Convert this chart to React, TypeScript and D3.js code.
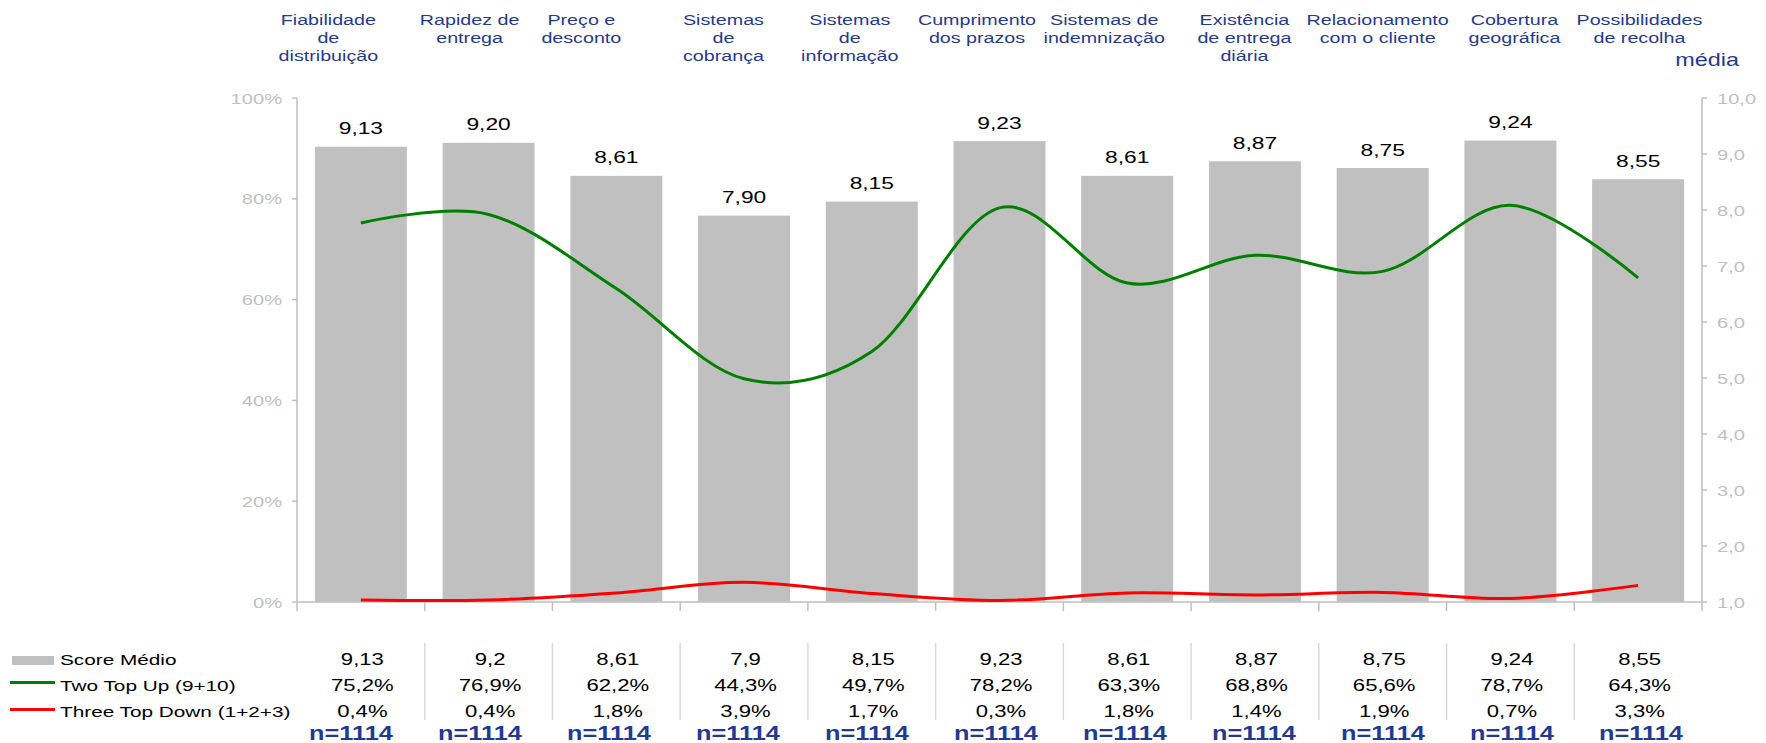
import React from "react";
import * as d3 from "d3";

const categories = [
  "Fiabilidade\nde\ndistribuição",
  "Rapidez de\nentrega",
  "Preço e\ndesconto",
  "Sistemas\nde\ncobrança",
  "Sistemas\nde\ninformação",
  "Cumprimento\ndos prazos",
  "Sistemas de\nindemnização",
  "Existência\nde entrega\ndiária",
  "Relacionamento\ncom o cliente",
  "Cobertura\ngeográfica",
  "Possibilidades\nde recolha",
];
const scoreMedio = [9.13, 9.2, 8.61, 7.9, 8.15, 9.23, 8.61, 8.87, 8.75, 9.24, 8.55];
const twoTopUp = [75.2, 76.9, 62.2, 44.3, 49.7, 78.2, 63.3, 68.8, 65.6, 78.7, 64.3];
const threeTopDown = [0.4, 0.4, 1.8, 3.9, 1.7, 0.3, 1.8, 1.4, 1.9, 0.7, 3.3];
const sampleN = [1114, 1114, 1114, 1114, 1114, 1114, 1114, 1114, 1114, 1114, 1114];
const leftTicks = [0, 20, 40, 60, 80, 100];
const rightTicks = [1, 2, 3, 4, 5, 6, 7, 8, 9, 10];
const legendLabels = ["Score Médio", "Two Top Up (9+10)", "Three Top Down (1+2+3)"];

// layout constants
const W = 1766;
const H = 743;
const X0 = 297;
const X1 = 1702;
const Y0 = 602;
const Y1 = 98;
const SX = 1.34;
const headerNudge = [-32.5, -19, -35, -20.6, -22, -22.5, -23, -10.5, -5, 4, 1.3];
const BLUE = "#1F3A93";
const GRAY = "#BFBFBF";
const FONT = "'Liberation Sans', Arial, sans-serif";

function T(props: {
  x: number;
  y: number;
  anchor?: string;
  size: number;
  weight?: string | number;
  fill?: string;
  sx?: number;
  children: React.ReactNode;
}) {
  const { x, y, anchor = "middle", size, weight = "normal", fill = "#000", sx = SX, children } = props;
  return (
    <text
      transform={`translate(${x},${y}) scale(${sx},1)`}
      textAnchor={anchor}
      fontSize={size}
      fontWeight={weight}
      fill={fill}
      fontFamily={FONT}
    >
      {children}
    </text>
  );
}

const comma = (s: string) => s.replace(".", ",");
const fmt2 = (v: number) => comma(d3.format(".2f")(v));
const fmtTrim = (v: number) => comma(String(+v.toFixed(2)));
const fmtPct = (v: number) => comma(d3.format(".1f")(v)) + "%";

export default function App() {
  const idx = categories.map((_, i) => i);
  const x = d3
    .scaleBand<number>()
    .domain(idx)
    .range([X0, X1])
    .paddingInner(0.28)
    .paddingOuter(0.14);
  const step = x.step();
  const cx = (i: number) => (x(i) as number) + x.bandwidth() / 2;
  const bandStart = (i: number) => X0 + step * i;
  const yPct = d3.scaleLinear().domain([0, 100]).range([Y0, Y1]);
  const yScore = d3.scaleLinear().domain([1, 10]).range([Y0, Y1]);
  const nX = d3.scaleLinear().domain([0, categories.length - 1]).range([351, 1641]);

  const line = d3
    .line<number>()
    .x((_, i) => cx(i))
    .y((d) => yPct(d))
    .curve(d3.curveCardinal.tension(0));

  const rowY = [665, 691, 717];

  return (
    <svg
      width={W}
      height={H}
      style={{ position: "absolute", left: 0, top: 0, background: "#fff" }}
    >
      <rect x={0} y={0} width={W} height={H} fill="#fff" />

      {/* header labels */}
      {categories.map((c, i) =>
        c.split("\n").map((ln, k) => (
          <T key={`h${i}-${k}`} x={cx(i) + headerNudge[i]} y={25 + 18.2 * k} size={14.7} fill={BLUE}>
            {ln}
          </T>
        ))
      )}
      <T x={1739} y={66} anchor="end" size={18} fill={BLUE} sx={1.3}>
        média
      </T>

      {/* bars */}
      {scoreMedio.map((v, i) => (
        <rect
          key={`b${i}`}
          x={x(i)}
          y={yScore(v)}
          width={x.bandwidth()}
          height={Y0 - yScore(v)}
          fill="#C0C0C0"
        />
      ))}
      {scoreMedio.map((v, i) => (
        <T key={`bl${i}`} x={cx(i)} y={yScore(v) - 12.5} size={17}>
          {fmt2(v)}
        </T>
      ))}

      {/* axes */}
      <g stroke={GRAY} strokeWidth={1.5} fill="none">
        <line x1={X0} y1={Y1} x2={X0} y2={Y0} />
        <line x1={X1} y1={Y1} x2={X1} y2={Y0} />
        <line x1={X0} y1={Y0} x2={X1} y2={Y0} />
        {leftTicks.map((t) => (
          <line key={`lt${t}`} x1={X0 - 5} x2={X0} y1={yPct(t)} y2={yPct(t)} />
        ))}
        {rightTicks.map((t) => (
          <line key={`rt${t}`} x1={X1} x2={X1 + 5} y1={yScore(t)} y2={yScore(t)} />
        ))}
        {d3.range(categories.length + 1).map((i) => (
          <line key={`bt${i}`} x1={bandStart(i)} x2={bandStart(i)} y1={Y0} y2={Y0 + 9} />
        ))}
      </g>
      {leftTicks.map((t) => (
        <T key={`ll${t}`} x={282} y={yPct(t) + 5.5} anchor="end" size={15} fill={GRAY}>
          {t}%
        </T>
      ))}
      {rightTicks.map((t) => (
        <T key={`rl${t}`} x={1717} y={yScore(t) + 5.5} anchor="start" size={15} fill={GRAY}>
          {comma(d3.format(".1f")(t))}
        </T>
      ))}

      {/* lines */}
      <path d={line(twoTopUp) || ""} fill="none" stroke="#008000" strokeWidth={3} />
      <path d={line(threeTopDown) || ""} fill="none" stroke="#FF0000" strokeWidth={3} />

      {/* legend */}
      <rect x={12} y={656} width={42} height={9} fill="#C0C0C0" />
      <line x1={10} x2={55} y1={682.5} y2={682.5} stroke="#008000" strokeWidth={3} />
      <line x1={10} x2={55} y1={709.5} y2={709.5} stroke="#FF0000" strokeWidth={3} />
      {legendLabels.map((l, k) => (
        <T key={`lg${k}`} x={60} y={rowY[k]} anchor="start" size={15.5}>
          {l}
        </T>
      ))}

      {/* table */}
      {d3.range(1, categories.length).map((i) => (
        <line
          key={`sep${i}`}
          x1={bandStart(i)}
          x2={bandStart(i)}
          y1={643}
          y2={720}
          stroke="#D9D9D9"
          strokeWidth={1.5}
        />
      ))}
      {scoreMedio.map((v, i) => (
        <T key={`ts${i}`} x={cx(i) + 1.5} y={rowY[0]} size={16.5}>
          {fmtTrim(v)}
        </T>
      ))}
      {twoTopUp.map((v, i) => (
        <T key={`tg${i}`} x={cx(i) + 1.5} y={rowY[1]} size={16.5}>
          {fmtPct(v)}
        </T>
      ))}
      {threeTopDown.map((v, i) => (
        <T key={`tr${i}`} x={cx(i) + 1.5} y={rowY[2]} size={16.5}>
          {fmtPct(v)}
        </T>
      ))}
      {sampleN.map((n, i) => (
        <T key={`tn${i}`} x={nX(i)} y={740} size={19.5} weight="bold" fill={BLUE} sx={1.3}>
          {`n=${n}`}
        </T>
      ))}
    </svg>
  );
}
